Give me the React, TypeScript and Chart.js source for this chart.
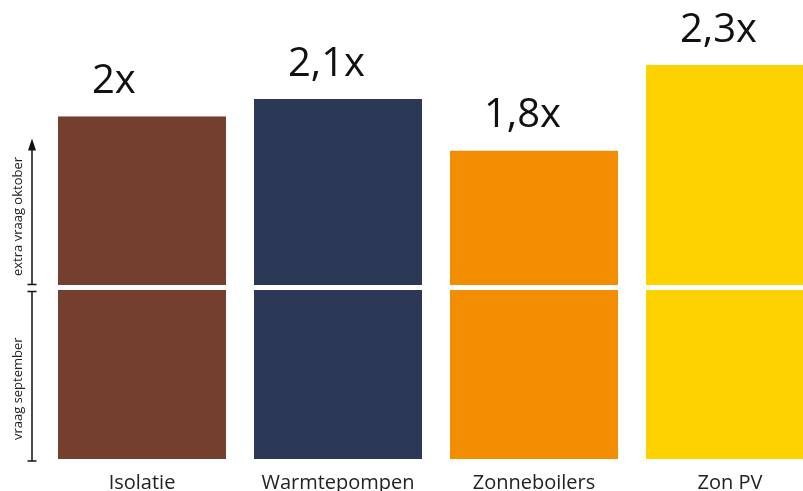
import React, { useEffect, useRef } from "react";
import { Chart, registerables } from "chart.js";

Chart.register(...registerables);

const categories = ["Isolatie", "Warmtepompen", "Zonneboilers", "Zon PV"];
const septemberValues = [1, 1, 1, 1];
const ratios = [2.0, 2.1, 1.8, 2.3];
const extraOctoberValues = ratios.map((r, i) => r - septemberValues[i]);
const ratioLabels = ["2x", "2,1x", "1,8x", "2,3x"];
const colors = ["#743f2f", "#2b3956", "#f28c00", "#fdd200"];
const axisLabelLower = "vraag september";
const axisLabelUpper = "extra vraag oktober";

const FONT = "'Open Sans', 'DejaVu Sans', sans-serif";

const annotationPlugin = {
  id: "annotations",
  afterDatasetsDraw(chart: any) {
    const ctx = chart.ctx;
    const meta = chart.getDatasetMeta(1);
    ctx.save();
    // value labels
    ctx.fillStyle = "#111";
    ctx.font = `40px ${FONT}`;
    ctx.textAlign = "left";
    ctx.textBaseline = "alphabetic";
    meta.data.forEach((el: any, i: number) => {
      ctx.fillText(ratioLabels[i], el.x - 50, el.y - 23);
    });

    // left side indicator
    const y = chart.scales.y;
    const x = 32;
    const y0 = y.getPixelForValue(0);
    const y1 = y.getPixelForValue(1);
    const yTip = y.getPixelForValue(1.87);
    ctx.strokeStyle = "#111";
    ctx.fillStyle = "#111";
    ctx.lineWidth = 1.5;
    ctx.beginPath();
    ctx.moveTo(x, y1 + 4);
    ctx.lineTo(x, y0 + 2);
    ctx.moveTo(x - 4.5, y1 + 4);
    ctx.lineTo(x + 4.5, y1 + 4);
    ctx.moveTo(x - 4.5, y0 + 2);
    ctx.lineTo(x + 4.5, y0 + 2);
    ctx.moveTo(x, y1 - 3);
    ctx.lineTo(x, yTip + 8);
    ctx.moveTo(x - 4.5, y1 - 3);
    ctx.lineTo(x + 4.5, y1 - 3);
    ctx.stroke();
    ctx.beginPath();
    ctx.moveTo(x, yTip);
    ctx.lineTo(x - 4, yTip + 12);
    ctx.lineTo(x + 4, yTip + 12);
    ctx.closePath();
    ctx.fill();

    ctx.font = `13px ${FONT}`;
    ctx.fillStyle = "#222";
    ctx.textAlign = "center";
    ctx.textBaseline = "middle";
    const drawRot = (text: string, cx: number, cy: number) => {
      ctx.save();
      ctx.translate(cx, cy);
      ctx.rotate(-Math.PI / 2);
      ctx.fillText(text, 0, 0);
      ctx.restore();
    };
    drawRot(axisLabelLower, 18, y.getPixelForValue(0.41));
    drawRot(axisLabelUpper, 18, y.getPixelForValue(1.415));
    ctx.restore();
  },
};

export default function App() {
  const ref = useRef<HTMLCanvasElement>(null);
  useEffect(() => {
    document.body.style.margin = "0";
    if (!ref.current) return;
    const chart = new Chart(ref.current, {
      type: "bar",
      data: {
        labels: categories,
        datasets: [
          {
            label: axisLabelLower,
            data: septemberValues,
            backgroundColor: colors,
            borderColor: "#ffffff",
            borderWidth: { top: 2.5, bottom: 0, left: 0, right: 0 },
            borderSkipped: false,
            stack: "s",
          },
          {
            label: axisLabelUpper,
            data: extraOctoberValues,
            backgroundColor: colors,
            borderColor: "#ffffff",
            borderWidth: { top: 0, bottom: 2.5, left: 0, right: 0 },
            borderSkipped: false,
            stack: "s",
          },
        ],
      },
      options: {
        animation: false,
        responsive: false,
        maintainAspectRatio: false,
        devicePixelRatio: 1,
        layout: { padding: { left: 44, right: 0, top: 0, bottom: 0 } },
        datasets: {
          bar: { barPercentage: 168 / 196, categoryPercentage: 1 },
        },
        plugins: { legend: { display: false }, tooltip: { enabled: false } },
        scales: {
          x: {
            stacked: true,
            grid: { display: false, drawTicks: false },
            border: { display: false },
            ticks: {
              autoSkip: false,
              maxRotation: 0,
              padding: 12,
              color: "#222",
              font: { family: FONT, size: 20 },
            },
          },
          y: {
            display: false,
            stacked: true,
            min: 0,
            max: 2.678,
          },
        },
      },
      plugins: [annotationPlugin],
    });
    return () => chart.destroy();
  }, []);
  return (
    <div style={{ width: 803, height: 491, position: "relative", overflow: "hidden" }}>
      <canvas ref={ref} width={828} height={507} style={{ display: "block" }} />
    </div>
  );
}
